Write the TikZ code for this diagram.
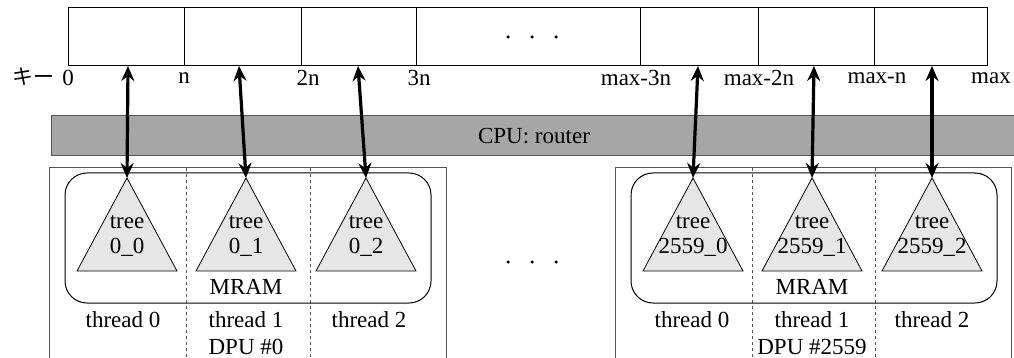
\documentclass[tikz,border=0pt]{standalone}
\usepackage{fontspec}
\setmainfont{Liberation Serif}
\newfontfamily\jpfont{Noto Sans CJK JP}
\usetikzlibrary{arrows.meta}
\definecolor{bandgray}{HTML}{A6A6A6}
\definecolor{treegray}{HTML}{E6E6E6}
\definecolor{edgegray}{HTML}{555555}
\tikzset{
  cellrow/.style={draw=black, line width=1pt},
  lbl/.style={inner sep=0pt, font=\fontsize{23}{24}\selectfont},
  treebox/.style={draw=black, fill=treegray, line width=0.8pt},
  dpubox/.style={draw=edgegray, line width=1pt},
  mram/.style={draw=black, line width=1pt, rounded corners=22pt},
  threadsep/.style={draw=edgegray, dashed, line width=0.7pt},
  link/.style={line width=3.2pt, {Stealth[length=15pt,width=13pt,inset=5pt]}-{Stealth[length=15pt,width=13pt,inset=5pt]}},
  dot/.style={circle, fill=black, inner sep=0pt, minimum size=3.5pt},
}
\begin{document}
\begin{tikzpicture}[x=1pt,y=-1pt]
\useasboundingbox (0,0) rectangle (1014,358);

% key array
\draw[cellrow] (68,8) rectangle (987,66);
\foreach \xx in {184,301,416,640,758,874}
  \draw[cellrow] (\xx,8) -- (\xx,66);
\node[dot] (d1) at (508,37) {};
\node[dot] (d2) at (532,37) {};
\node[dot] (d3) at (556,37) {};

% key labels
\node[lbl, font=\fontsize{21}{24}\jpfont, anchor=east] (keylbl) at (55,77) {キー};
\node[lbl] (k0) at (68,78) {0};
\node[lbl] (k1) at (184,78) {n};
\node[lbl] (k2) at (308,78) {2n};
\node[lbl] (k3) at (419,78) {3n};
\node[lbl] (k4) at (636,78) {max-3n};
\node[lbl] (k5) at (759,78) {max-2n};
\node[lbl] (k6) at (877,78) {max-n};
\node[lbl] (k7) at (991,78) {max};

% CPU router band
\draw[draw=edgegray, fill=bandgray, line width=1pt] (51,116) rectangle (1016,156);
\node[lbl] (cpu) at (534,136) {CPU: router};

% DPU boxes
\draw[dpubox] (49,168) rectangle (446,362);
\draw[dpubox] (615,168) rectangle (1011,362);
\draw[threadsep] (186,168) -- (186,362);
\draw[threadsep] (310,168) -- (310,362);
\draw[threadsep] (752,168) -- (752,362);
\draw[threadsep] (875,168) -- (875,362);
\draw[mram] (65,173) rectangle (431,303);
\draw[mram] (631,173) rectangle (997,303);

% trees
\foreach \cx/\nm/\lab in {127/ta/0\_0, 246/tb/0\_1, 366/tc/0\_2,
                           693/td/2559\_0, 812/te/2559\_1, 932/tf/2559\_2}{
  \draw[treebox] (\cx,178) -- (\cx+50,271) -- (\cx-50,271) -- cycle;
  \coordinate (\nm) at (\cx,178);
  \node[lbl] (\nm-t) at (\cx,222) {tree};
  \node[lbl] (\nm-n) at (\cx,247) {\lab};
}

% thread / DPU labels
\node[lbl] (mram0) at (246,287) {MRAM};
\node[lbl] (mram1) at (812,287) {MRAM};
\node[lbl] (th00) at (123,320) {thread 0};
\node[lbl] (th01) at (246,320) {thread 1};
\node[lbl] (th02) at (369,320) {thread 2};
\node[lbl] (dpu0) at (246,347) {DPU \#0};
\node[lbl] (th10) at (692,320) {thread 0};
\node[lbl] (th11) at (812,320) {thread 1};
\node[lbl] (th12) at (932,320) {thread 2};
\node[lbl] (dpu1) at (812,347) {DPU \#2559};

\node[dot] (m1) at (508,262) {};
\node[dot] (m2) at (532,262) {};
\node[dot] (m3) at (556,262) {};

% links between key ranges and trees
\coordinate (ka) at (128,66);
\coordinate (kb) at (239,66);
\coordinate (kc) at (358,66);
\coordinate (kd) at (698,66);
\coordinate (ke) at (814,66);
\coordinate (kf) at (932,66);
\draw[link] (ka) -- (ta);
\draw[link] (kb) -- (tb);
\draw[link] (kc) -- (tc);
\draw[link] (kd) -- (td);
\draw[link] (ke) -- (te);
\draw[link] (kf) -- (tf);
\end{tikzpicture}
\end{document}
